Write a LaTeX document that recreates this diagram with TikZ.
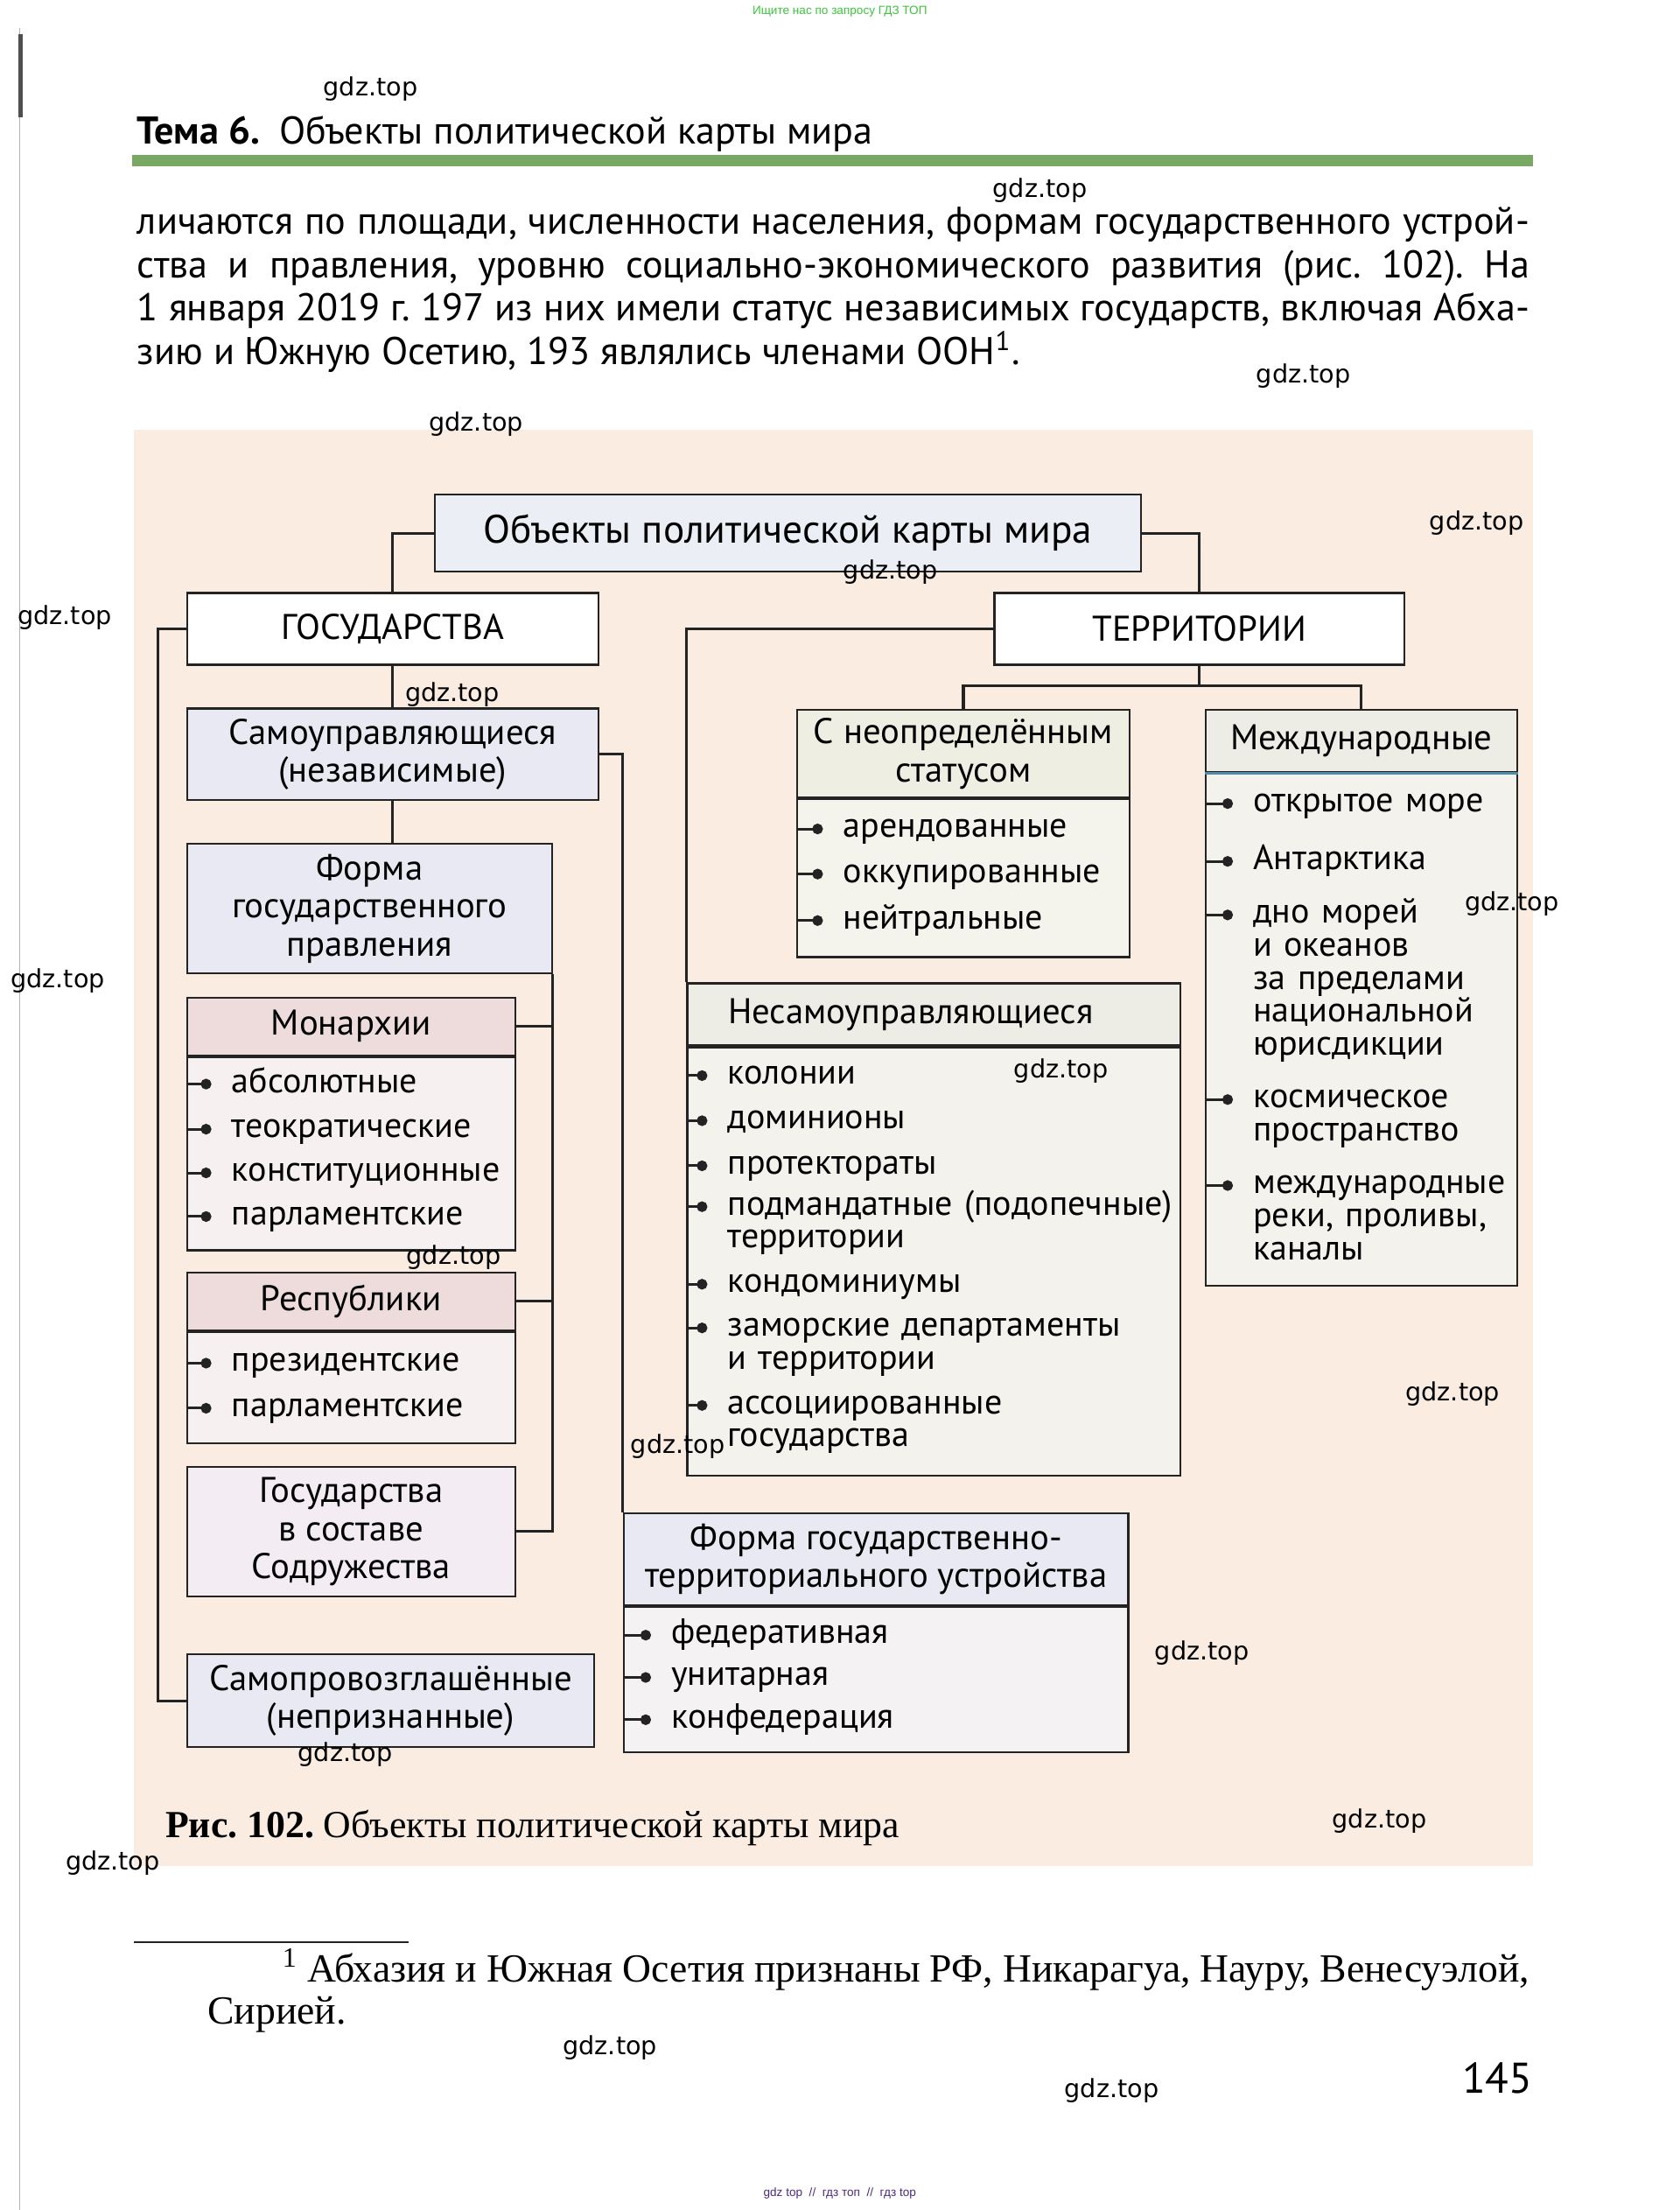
\documentclass[tikz,border=0pt]{standalone}
\usepackage{fontspec}
\setmainfont{PT Sans}
\newfontfamily\zasechki{Liberation Serif}
\newfontfamily\vodyanoi{DejaVu Sans}
\newfontfamily\arial{Liberation Sans}
\usepackage{tikz}
\usetikzlibrary{arrows.meta}
\frenchspacing
\newlength{\pxu}
\setlength{\pxu}{0.015cm}
\definecolor{liniya}{RGB}{35,35,35}
\definecolor{persik}{RGB}{251,236,226}
\definecolor{zelenyi}{RGB}{120,168,100}
\definecolor{golubovatyi}{RGB}{236,238,246}
\definecolor{lavanda}{RGB}{233,233,244}
\definecolor{rozovyi}{RGB}{238,220,221}
\definecolor{rozovyisvet}{RGB}{247,240,240}
\definecolor{sirenevyi}{RGB}{243,236,242}
\definecolor{lavandasvet}{RGB}{245,242,244}
\definecolor{olivka}{RGB}{238,239,226}
\definecolor{olivkasvet}{RGB}{244,243,236}
\definecolor{seryizel}{RGB}{237,237,229}
\definecolor{seryizelsvet}{RGB}{243,242,237}
\definecolor{goluboi}{RGB}{80,140,170}
\definecolor{sait}{RGB}{60,196,60}
\definecolor{fiolet}{RGB}{75,42,128}

\begin{document}
\begin{tikzpicture}[x=0.015cm,y=-0.015cm,
blok/.style={draw=liniya,line width=0.6pt,anchor=north west,align=center,inner sep=1pt,font=\fontsize{10.8}{11.5}\selectfont},
spisok/.style={draw=liniya,line width=0.6pt,anchor=north west,inner sep=0pt},
punkt/.style={anchor=base west,text width=330\pxu,align=left,inner sep=0pt,font=\fontsize{10.6}{10}\selectfont},
svyaz/.style={draw=liniya,line width=0.8pt},
marker/.style={draw=liniya,line width=0.8pt,-{Circle[length=3.2pt]}},
znak/.style={font=\vodyanoi\fontsize{7.6}{8}\selectfont,inner sep=0pt}
]
\useasboundingbox (0,0) rectangle (1192,1568);
\fill[white] (0,0) rectangle (1192,1568);
% край страницы
\draw[gray!60,line width=0.3pt] (14,20) -- (14,1568);
\fill[liniya!80] (13,24) rectangle (16,83);

% шапка и текст
\node[anchor=base west,inner sep=0pt,font=\fontsize{11.7}{14}\selectfont] (tema) at (97,102) {\textbf{Тема 6.}\hspace{0.5em}Объекты политической карты мира};
\fill[zelenyi] (94,110) rectangle (1088,118);
\node[anchor=base west,inner sep=0pt,font=\fontsize{11.7}{13.2}\selectfont] (abzac) at (97,166) {\parbox[t]{988\pxu}{%
\makebox[988\pxu][s]{личаются по площади, численности населения, формам государственного устрой-}\\
\makebox[988\pxu][s]{ства и правления, уровню социально-экономического развития (рис. 102). На}\\
\makebox[988\pxu][s]{1 января 2019 г. 197 из них имели статус независимых государств, включая Абха-}\\
зию и Южную Осетию, 193 являлись членами ООН\textsuperscript{1}.}};

% фон рисунка
\fill[persik] (95,305) rectangle (1088,1324);

% верхние блоки
\node[blok,fill=golubovatyi,minimum width=501\pxu,minimum height=55\pxu,font=\fontsize{12}{13}\selectfont] (top) at (308,350) {Объекты политической карты мира};
\node[blok,fill=white,minimum width=292\pxu,minimum height=51\pxu] (gos) at (132,420) {ГОСУДАРСТВА};
\node[blok,fill=white,minimum width=291\pxu,minimum height=51\pxu] (ter) at (705,420) {ТЕРРИТОРИИ};

% государства
\node[blok,fill=lavanda,minimum width=292\pxu,minimum height=65\pxu] (samu) at (132,502) {Самоуправляющиеся\\(независимые)};
\node[blok,fill=lavanda,minimum width=259\pxu,minimum height=92\pxu] (forma) at (132,598) {Форма\\государственного\\правления};
\node[blok,fill=rozovyi,minimum width=233\pxu,minimum height=41\pxu] (mon) at (132,707) {Монархии};
\node[spisok,fill=rozovyisvet,minimum width=233\pxu,minimum height=137\pxu] (monb) at (mon.south west) {};
\node[blok,fill=rozovyi,minimum width=233\pxu,minimum height=41\pxu] (resp) at (132,902) {Республики};
\node[spisok,fill=rozovyisvet,minimum width=233\pxu,minimum height=79\pxu] (respb) at (resp.south west) {};
\node[blok,fill=sirenevyi,minimum width=233\pxu,minimum height=92\pxu] (sodr) at (132,1040) {Государства\\в составе\\Содружества};
\node[blok,fill=lavanda,minimum width=289\pxu,minimum height=66\pxu] (samoprov) at (132,1173) {Самопровозглашённые\\(непризнанные)};
\node[blok,fill=lavanda,minimum width=358\pxu,minimum height=65\pxu] (fgt) at (442,1073) {Форма государственно-\\территориального устройства};
\node[spisok,fill=lavandasvet,minimum width=358\pxu,minimum height=103\pxu] (fgtb) at (fgt.south west) {};

% территории
\node[blok,fill=olivka,minimum width=236\pxu,minimum height=62\pxu] (neopr) at (565,503) {С неопределённым\\статусом};
\node[spisok,fill=olivkasvet,minimum width=236\pxu,minimum height=112\pxu] (neoprb) at (neopr.south west) {};
\node[blok,fill=seryizel,minimum width=221\pxu,minimum height=44\pxu] (mezhd) at (855,503) {Международные};
\node[spisok,fill=seryizelsvet,minimum width=221\pxu,minimum height=363\pxu] (mezhdb) at (mezhd.south west) {};
\draw[goluboi,line width=0.8pt] (mezhd.south west) -- (mezhd.south east);
\node[blok,fill=seryizel,align=left,text width=292\pxu,inner xsep=29\pxu,minimum height=44\pxu] (nesam) at (487,697) {Несамоуправляющиеся};
\node[spisok,fill=seryizelsvet,minimum width=350\pxu,minimum height=304\pxu] (nesamb) at (nesam.south west) {};

% связи
\draw[svyaz] (top.west) -| (gos.north);
\draw[svyaz] (top.east) -| (ter.north);
\draw[svyaz] (gos.west) -- ++(-20,0) |- (samoprov.west);
\draw[svyaz] (gos.south) -- (samu.north);
\draw[svyaz] (samu.south) -- (samu.south |- forma.north);
\draw[svyaz] (samu.east) -| (fgt.north west);
\draw[svyaz] (forma.south east) |- (sodr.east);
\draw[svyaz] (mon.east) -- (mon.east -| forma.east);
\draw[svyaz] (resp.east) -- (resp.east -| forma.east);
\draw[svyaz] (ter.west) -| (nesam.north west);
\draw[svyaz] (ter.south) -- ++(0,14) -| (neopr.north);
\draw[svyaz] (ter.south) -- ++(0,14) -| (mezhd.north);

% пункты
\node[punkt] (mon1) at (164,775) {абсолютные};
\node[punkt] (mon2) at (164,807) {теократические};
\node[punkt] (mon3) at (164,838) {конституционные};
\node[punkt] (mon4) at (164,869) {парламентские};
\node[punkt] (resp1) at (164,973) {президентские};
\node[punkt] (resp2) at (164,1005) {парламентские};
\node[punkt] (fgt1) at (476,1166) {федеративная};
\node[punkt] (fgt2) at (476,1196) {унитарная};
\node[punkt] (fgt3) at (476,1226) {конфедерация};
\node[punkt] (neopr1) at (598,594) {арендованные};
\node[punkt] (neopr2) at (598,626) {оккупированные};
\node[punkt] (neopr3) at (598,659) {нейтральные};
\node[punkt] (mezhd1) at (889,576) {открытое море};
\node[punkt] (mezhd2) at (889,617) {Антарктика};
\node[punkt] (mezhd3) at (889,655) {дно морей\\и океанов\\за пределами\\национальной\\юрисдикции};
\node[punkt] (mezhd4) at (889,786) {космическое\\пространство};
\node[punkt] (mezhd5) at (889,847) {международные\\реки, проливы,\\каналы};
\node[punkt] (nesam1) at (516,769) {колонии};
\node[punkt] (nesam2) at (516,801) {доминионы};
\node[punkt] (nesam3) at (516,833) {протектораты};
\node[punkt] (nesam4) at (516,862) {подмандатные (подопечные)\\территории};
\node[punkt] (nesam5) at (516,917) {кондоминиумы};
\node[punkt] (nesam6) at (516,948) {заморские департаменты\\и территории};
\node[punkt] (nesam7) at (516,1003) {ассоциированные\\государства};

\draw[marker] (monb.west |- mon1.mid west) -- ([xshift=-14\pxu]mon1.mid west);
\draw[marker] (monb.west |- mon2.mid west) -- ([xshift=-14\pxu]mon2.mid west);
\draw[marker] (monb.west |- mon3.mid west) -- ([xshift=-14\pxu]mon3.mid west);
\draw[marker] (monb.west |- mon4.mid west) -- ([xshift=-14\pxu]mon4.mid west);
\draw[marker] (respb.west |- resp1.mid west) -- ([xshift=-14\pxu]resp1.mid west);
\draw[marker] (respb.west |- resp2.mid west) -- ([xshift=-14\pxu]resp2.mid west);
\draw[marker] (fgtb.west |- fgt1.mid west) -- ([xshift=-14\pxu]fgt1.mid west);
\draw[marker] (fgtb.west |- fgt2.mid west) -- ([xshift=-14\pxu]fgt2.mid west);
\draw[marker] (fgtb.west |- fgt3.mid west) -- ([xshift=-14\pxu]fgt3.mid west);
\draw[marker] (neoprb.west |- neopr1.mid west) -- ([xshift=-14\pxu]neopr1.mid west);
\draw[marker] (neoprb.west |- neopr2.mid west) -- ([xshift=-14\pxu]neopr2.mid west);
\draw[marker] (neoprb.west |- neopr3.mid west) -- ([xshift=-14\pxu]neopr3.mid west);
\draw[marker] (mezhdb.west |- mezhd1.mid west) -- ([xshift=-14\pxu]mezhd1.mid west);
\draw[marker] (mezhdb.west |- mezhd2.mid west) -- ([xshift=-14\pxu]mezhd2.mid west);
\draw[marker] (mezhdb.west |- mezhd3.mid west) -- ([xshift=-14\pxu]mezhd3.mid west);
\draw[marker] (mezhdb.west |- mezhd4.mid west) -- ([xshift=-14\pxu]mezhd4.mid west);
\draw[marker] (mezhdb.west |- mezhd5.mid west) -- ([xshift=-14\pxu]mezhd5.mid west);
\draw[marker] (nesamb.west |- nesam1.mid west) -- ([xshift=-14\pxu]nesam1.mid west);
\draw[marker] (nesamb.west |- nesam2.mid west) -- ([xshift=-14\pxu]nesam2.mid west);
\draw[marker] (nesamb.west |- nesam3.mid west) -- ([xshift=-14\pxu]nesam3.mid west);
\draw[marker] (nesamb.west |- nesam4.mid west) -- ([xshift=-14\pxu]nesam4.mid west);
\draw[marker] (nesamb.west |- nesam5.mid west) -- ([xshift=-14\pxu]nesam5.mid west);
\draw[marker] (nesamb.west |- nesam6.mid west) -- ([xshift=-14\pxu]nesam6.mid west);
\draw[marker] (nesamb.west |- nesam7.mid west) -- ([xshift=-14\pxu]nesam7.mid west);

% подпись и сноска
\node[anchor=base west,inner sep=0pt,font=\zasechki\fontsize{11.6}{14}\selectfont] (podpis) at (117,1304) {\textbf{Рис. 102.} Объекты политической карты мира};
\draw[liniya,line width=0.5pt] (95,1378) -- (290,1378);
\node[anchor=base west,inner sep=0pt,font=\zasechki\fontsize{12.1}{12.8}\selectfont] (snoska) at (147,1406) {\parbox[t]{938\pxu}{%
\hspace*{53\pxu}\makebox[885\pxu][s]{\textsuperscript{1} Абхазия и Южная Осетия признаны РФ, Никарагуа, Науру, Венесуэлой,}\\
Сирией.}};
\node[anchor=base east,inner sep=0pt,font=\fontsize{13}{15}\selectfont] (nomer) at (1088,1485) {145};

% водяные знаки
\node[font=\arial\fontsize{3.6}{4}\selectfont,text=sait,inner sep=0pt] (poisk) at (596,8) {Ищите нас по запросу ГДЗ ТОП};
\node[font=\arial\fontsize{3.6}{4}\selectfont,text=fiolet,inner sep=0pt] (niz) at (596,1556) {gdz top\ \ //\ \ гдз топ\ \ //\ \ гдз top};
\node[znak] (z1) at (263,63) {gdz.top};
\node[znak] (z2) at (738,135) {gdz.top};
\node[znak] (z3) at (925,267) {gdz.top};
\node[znak] (z4) at (338,301) {gdz.top};
\node[znak] (z5) at (1048,371) {gdz.top};
\node[znak] (z6) at (632,406) {gdz.top};
\node[znak] (z7) at (46,438) {gdz.top};
\node[znak] (z8) at (321,493) {gdz.top};
\node[znak] (z9) at (1073,641) {gdz.top};
\node[znak] (z10) at (41,696) {gdz.top};
\node[znak] (z11) at (753,760) {gdz.top};
\node[znak] (z12) at (322,892) {gdz.top};
\node[znak] (z13) at (1031,989) {gdz.top};
\node[znak] (z14) at (481,1026) {gdz.top};
\node[znak] (z15) at (853,1173) {gdz.top};
\node[znak] (z16) at (245,1245) {gdz.top};
\node[znak] (z17) at (979,1292) {gdz.top};
\node[znak] (z18) at (80,1322) {gdz.top};
\node[znak] (z19) at (433,1453) {gdz.top};
\node[znak] (z20) at (789,1483) {gdz.top};
\end{tikzpicture}
\end{document}
